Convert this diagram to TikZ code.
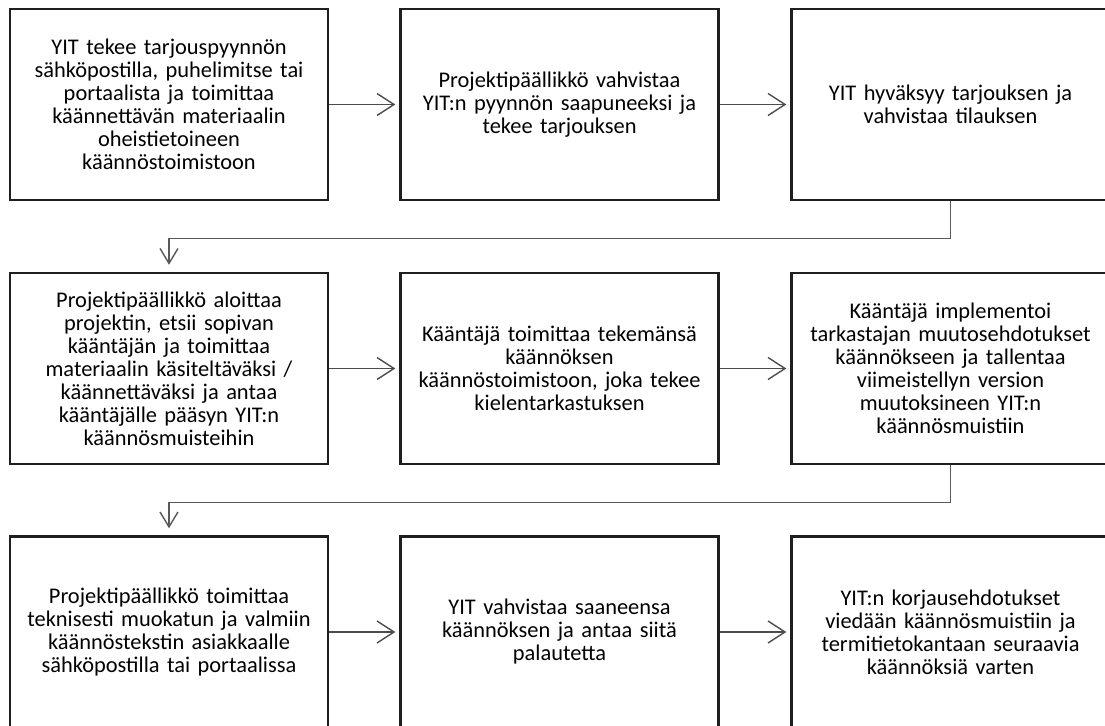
\documentclass[tikz,border=0pt]{standalone}
\usepackage{fontspec}
\setmainfont{Carlito}
\usetikzlibrary{arrows.meta}
\begin{document}
\begin{tikzpicture}[x=0.5pt,y=0.5pt]

\tikzset{stepbox/.style={draw=black!88, line width=1.2pt, rectangle, minimum width=159pt, minimum height=95.5pt, text width=156pt, align=center, inner sep=0pt, font=\fontsize{11.2}{11.5}\selectfont}}
\tikzset{flow/.style={draw=black!70, line width=0.7pt, -{Straight Barb[length=8.5pt,width=11pt]}, shorten >=2pt}}
\tikzset{turn/.style={draw=black!65, line width=0.7pt, -{Straight Barb[length=7.5pt,width=9pt]}, shorten >=3.5pt}}

% page frame, boxes run off the right and bottom edge
\useasboundingbox (0,0) rectangle (1105,725);
\clip (0,0) rectangle (1105,725);

% first row: request, offer, order
\node[stepbox] at (169, 620.5) (req) {YIT tekee tarjouspyynnön\\sähköpostilla, puhelimitse tai\\portaalista ja toimittaa\\käännettävän materiaalin\\oheistietoineen\\käännöstoimistoon};
\node[stepbox] at (559.5, 620.5) (offer) {Projektipäällikkö vahvistaa\\YIT:n pyynnön saapuneeksi ja\\tekee tarjouksen};
\node[stepbox] at (950.5, 620.5) (order) {YIT hyväksyy tarjouksen ja\\vahvistaa tilauksen};

% second row: project, translation, revision
\node[stepbox] at (169, 356.5) (start) {Projektipäällikkö aloittaa\\projektin, etsii sopivan\\kääntäjän ja toimittaa\\materiaalin käsiteltäväksi /\\käännettäväksi ja antaa\\kääntäjälle pääsyn YIT:n\\käännösmuisteihin};
\node[stepbox] at (559.5, 356.5) (transl) {Kääntäjä toimittaa tekemänsä\\käännöksen\\käännöstoimistoon, joka tekee\\kielentarkastuksen};
\node[stepbox] at (950.5, 356.5) (revise) {Kääntäjä implementoi\\tarkastajan muutosehdotukset\\käännökseen ja tallentaa\\viimeistellyn version\\muutoksineen YIT:n\\käännösmuistiin};

% third row: delivery, feedback, memory
\node[stepbox] at (169, 93) (deliver) {Projektipäällikkö toimittaa\\teknisesti muokatun ja valmiin\\käännöstekstin asiakkaalle\\sähköpostilla tai portaalissa};
\node[stepbox] at (559.5, 93) (feedback) {YIT vahvistaa saaneensa\\käännöksen ja antaa siitä\\palautetta};
\node[stepbox] at (950.5, 93) (memory) {YIT:n korjausehdotukset\\viedään käännösmuistiin ja\\termitietokantaan seuraavia\\käännöksiä varten};

% interactions
\draw[flow] (req) -- (offer);
\draw[flow] (offer) -- (order);
\draw[flow] (start) -- (transl);
\draw[flow] (transl) -- (revise);
\draw[flow] (deliver) -- (feedback);
\draw[flow] (feedback) -- (memory);
\draw[turn] (order.south) -- ++(0,-37) -| (start.north);
\draw[turn] (revise.south) -- ++(0,-37) -| (deliver.north);

\end{tikzpicture}
\end{document}
